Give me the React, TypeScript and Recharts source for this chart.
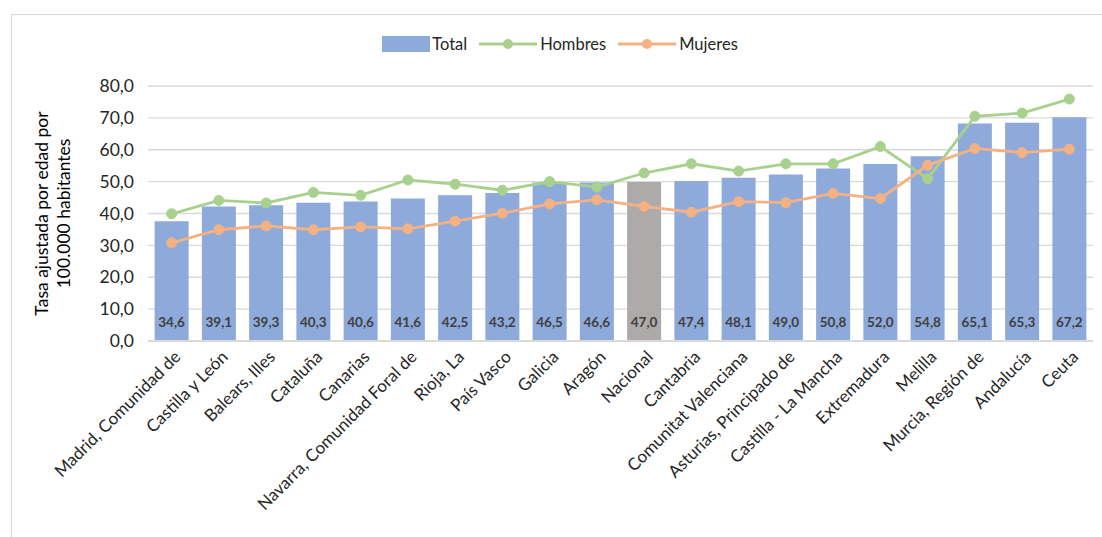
import {
  ComposedChart,
  Bar,
  Line,
  XAxis,
  YAxis,
  CartesianGrid,
  Cell,
  LabelList,
} from 'recharts';

const regions = [
  'Madrid, Comunidad de',
  'Castilla y León',
  'Balears, Illes',
  'Cataluña',
  'Canarias',
  'Navarra, Comunidad Foral de',
  'Rioja, La',
  'País Vasco',
  'Galicia',
  'Aragón',
  'Nacional',
  'Cantabria',
  'Comunitat Valenciana',
  'Asturias, Principado de',
  'Castilla - La Mancha',
  'Extremadura',
  'Melilla',
  'Murcia, Región de',
  'Andalucía',
  'Ceuta',
];

// bar heights as drawn
const total = [37.6, 42.2, 42.6, 43.4, 43.8, 44.7, 45.7, 46.4, 49.7, 49.7, 49.9, 50.2, 51.2, 52.2, 54.1, 55.5, 58.0, 68.2, 68.5, 70.2];
// printed labels inside bars
const totalLabels = ['34,6', '39,1', '39,3', '40,3', '40,6', '41,6', '42,5', '43,2', '46,5', '46,6', '47,0', '47,4', '48,1', '49,0', '50,8', '52,0', '54,8', '65,1', '65,3', '67,2'];
const hombres = [39.9, 44.1, 43.3, 46.6, 45.7, 50.5, 49.2, 47.3, 50.0, 48.3, 52.7, 55.6, 53.3, 55.6, 55.6, 61.0, 50.9, 70.5, 71.5, 75.9];
const mujeres = [30.8, 34.9, 36.1, 34.9, 35.8, 35.2, 37.6, 40.1, 43.0, 44.3, 42.2, 40.4, 43.7, 43.4, 46.3, 44.7, 55.1, 60.4, 59.1, 60.2];
const yTicks = [0, 10, 20, 30, 40, 50, 60, 70, 80];

const data = regions.map((r, i) => ({
  region: r,
  total: total[i],
  hombres: hombres[i],
  mujeres: mujeres[i],
}));

const FONT = 'Lato, "Open Sans", sans-serif';
const BLUE = '#8eaadb';
const GREY = '#aeaaaa';
const GREEN = '#a9d18e';
const ORANGE = '#f4b183';

const fmt = (v: number) => v.toFixed(1).replace('.', ',');

function XTick(props: any) {
  const { x, y, payload } = props;
  const ax = x + 10;
  const ay = y + 9;
  return (
    <text
      x={ax}
      y={ay}
      transform={`rotate(-45, ${ax}, ${ay})`}
      textAnchor="end"
      fontSize={17}
      fontFamily={FONT}
      fill="#262626"
    >
      {payload.value}
    </text>
  );
}

function BarValue(props: any) {
  const { x, y, width, height, index } = props;
  return (
    <text
      x={x + width / 2}
      y={y + height - 14}
      textAnchor="middle"
      fontSize={13.5}
      fontWeight="bold"
      fontFamily={FONT}
      fill="#404040"
    >
      {totalLabels[index]}
    </text>
  );
}

function YTitle(props: any) {
  const { viewBox } = props;
  const cy = viewBox.y + viewBox.height / 2;
  return (
    <text
      transform={`rotate(-90, 52, ${cy})`}
      x={52}
      y={cy}
      textAnchor="middle"
      fontSize={17.5}
      fontFamily={FONT}
      fill="#000"
    >
      <tspan x={52} dy={-4}>Tasa ajustada por edad por</tspan>
      <tspan x={52} dy={22}>100.000 habitantes</tspan>
    </text>
  );
}

function LegendBox() {
  const item = { display: 'flex', alignItems: 'center', marginRight: 12 } as const;
  return (
    <div
      style={{
        position: 'absolute',
        top: 34,
        left: 15,
        width: 1102,
        display: 'flex',
        justifyContent: 'center',
        fontFamily: FONT,
        fontSize: 16.5,
        color: '#262626',
      }}
    >
      <div style={item}>
        <span style={{ width: 48, height: 16, background: BLUE, display: 'inline-block', marginRight: 2 }} />
        Total
      </div>
      <div style={item}>
        <svg width={58} height={16} style={{ marginRight: 3 }}>
          <line x1={0} y1={8} x2={58} y2={8} stroke={GREEN} strokeWidth={2.8} />
          <circle cx={29} cy={8} r={5} fill={GREEN} />
        </svg>
        Hombres
      </div>
      <div style={item}>
        <svg width={58} height={16} style={{ marginRight: 3 }}>
          <line x1={0} y1={8} x2={58} y2={8} stroke={ORANGE} strokeWidth={2.8} />
          <circle cx={29} cy={8} r={5} fill={ORANGE} />
        </svg>
        Mujeres
      </div>
    </div>
  );
}

export default function App() {
  return (
    <div style={{ position: 'fixed', top: 0, left: 0, width: 1102, height: 537, background: '#fff', overflow: 'hidden' }}>
      <div
        style={{
          position: 'absolute',
          left: 11,
          top: 14,
          width: 1100,
          height: 540,
          border: '1.5px solid #d9d9d9',
        }}
      />
      <LegendBox />
      <div style={{ position: 'absolute', left: 0, top: 0 }}>
        <ComposedChart
          width={1102}
          height={537}
          data={data}
          margin={{ top: 86, right: 9, bottom: 0, left: 0 }}
          barCategoryGap="14%"
        >
          <CartesianGrid vertical={false} stroke="#d9d9d9" strokeWidth={1.3} />
          <XAxis
            dataKey="region"
            interval={0}
            height={196}
            tick={<XTick />}
            tickLine={false}
            axisLine={{ stroke: '#d9d9d9', strokeWidth: 2 }}
          />
          <YAxis
            domain={[0, 80]}
            ticks={yTicks}
            width={148}
            tickFormatter={fmt}
            tickLine={false}
            axisLine={false}
            tick={{ fontSize: 17.5, fill: '#262626', fontFamily: FONT }}
            tickMargin={8}
            label={<YTitle />}
          />
          <Bar dataKey="total" isAnimationActive={false}>
            {data.map((d, i) => (
              <Cell key={i} fill={d.region === 'Nacional' ? GREY : BLUE} />
            ))}
            <LabelList dataKey="total" content={<BarValue />} />
          </Bar>
          <Line
            dataKey="hombres"
            stroke={GREEN}
            strokeWidth={2.8}
            dot={{ r: 5, fill: GREEN, stroke: GREEN, strokeWidth: 1 }}
            isAnimationActive={false}
          />
          <Line
            dataKey="mujeres"
            stroke={ORANGE}
            strokeWidth={2.8}
            dot={{ r: 5, fill: ORANGE, stroke: ORANGE, strokeWidth: 1 }}
            isAnimationActive={false}
          />
        </ComposedChart>
      </div>
    </div>
  );
}
